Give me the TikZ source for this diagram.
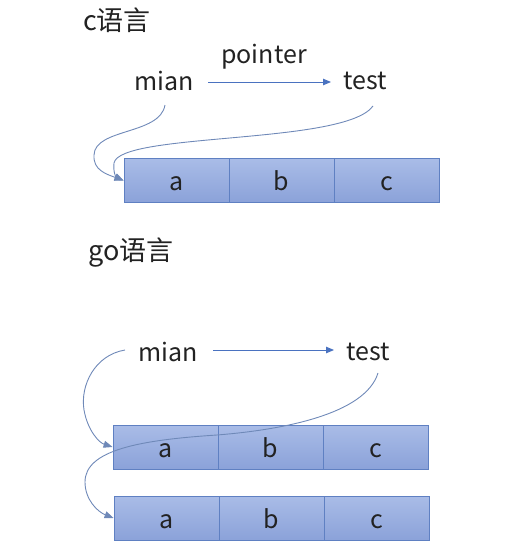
\documentclass[tikz,border=0pt]{standalone}
\usepackage{fontspec}
\setmainfont{Noto Sans CJK SC}
\usetikzlibrary{arrows.meta}
\definecolor{cellfillT}{HTML}{A9BCE7}
\definecolor{cellfillB}{HTML}{8BA2D9}
\definecolor{cellline}{HTML}{5F80C2}
\definecolor{arrowblue}{HTML}{4A72C0}
\definecolor{curvecol}{HTML}{6F89B8}
\definecolor{txt}{HTML}{222222}
\tikzset{
  lbl/.style={font=\fontsize{25}{29}\selectfont, text=txt, inner sep=0pt},
  ttl/.style={font=\fontsize{27}{31}\selectfont, text=txt, inner sep=0pt},
  cell/.style={draw=cellline, line width=0.9pt, top color=cellfillT, bottom color=cellfillB,
    minimum width=105pt, minimum height=44pt, inner sep=0pt, text height=24pt, text depth=4pt,
    font=\fontsize{25}{29}\selectfont, text=txt},
  straightarrow/.style={draw=arrowblue, line width=0.9pt, -{Triangle[length=8pt,width=6.5pt]}},
  curvearrow/.style={draw=curvecol, line width=0.9pt, -{Triangle[length=9pt,width=7pt]}, arrowblue},
}
\begin{document}
\begin{tikzpicture}[x=1pt,y=-1pt]
\useasboundingbox (0,0) rectangle (525,549);
% ---- C section
\node[ttl] (ctitle) at (117,20) {c语言};
\node[lbl] (pointer) at (264,57) {pointer};
\node[lbl] (mian1) at (164,81) {mian};
\node[lbl] (test1) at (365,81) {test};
\node[cell] (a1) at (176.5,180.5) {a};
\node[cell] (b1) at (281.5,180.5) {b};
\node[cell] (c1) at (386.5,180.5) {c};
\coordinate (p1s) at (208,82);
\coordinate (p1e) at (331,82);
\draw[straightarrow] (p1s) -- (p1e);
\coordinate (m1s) at (165,105);
\coordinate (t1s) at (373,106);
\draw[curvearrow, draw=curvecol] (m1s) .. controls (160,135) and (95,128) .. (94,155)
  .. controls (93,170) and (106,174) .. (a1.west);
\draw[curvearrow, draw=curvecol] (t1s) .. controls (345,145) and (120,132) .. (114,163)
  .. controls (113,172) and (116,177) .. (a1.west);
% ---- Go section
\node[ttl] (gotitle) at (131,253) {go语言};
\node[lbl] (mian2) at (168,352) {mian};
\node[lbl] (test2) at (368,352) {test};
\node[cell] (a2) at (165.5,447) {a};
\node[cell] (b2) at (270.5,447) {b};
\node[cell] (c2) at (375.5,447) {c};
\node[cell] (a3) at (166.5,518) {a};
\node[cell] (b3) at (271.5,518) {b};
\node[cell] (c3) at (376.5,518) {c};
\coordinate (p2s) at (213,350);
\coordinate (p2e) at (334,350);
\draw[straightarrow] (p2s) -- (p2e);
\coordinate (m2s) at (125,350);
\coordinate (t2s) at (378,373);
\draw[curvearrow, draw=curvecol] (m2s) .. controls (95,355) and (80,385) .. (84,410)
  .. controls (88,432) and (100,443) .. (a2.west);
\draw[curvearrow, draw=curvecol] (t2s) .. controls (365,415) and (280,430) .. (217,435)
  .. controls (140,440) and (85,450) .. (85,482)
  .. controls (85,500) and (98,512) .. (a3.west);
\end{tikzpicture}
\end{document}
